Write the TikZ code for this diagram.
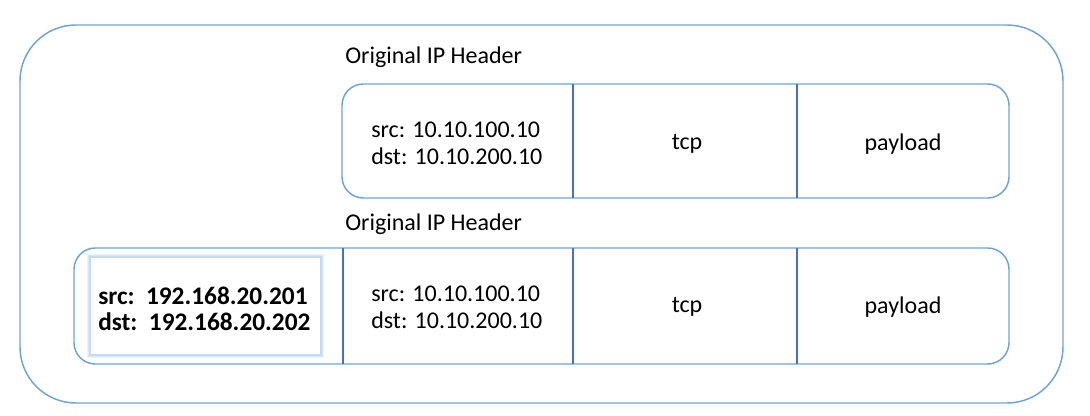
\documentclass[tikz,border=0pt]{standalone}
\usepackage{fontspec}
\setmainfont{Carlito}
\definecolor{lineblue}{RGB}{110,163,218}
\definecolor{sepblue}{RGB}{68,114,196}
\definecolor{glowblue}{RGB}{170,204,244}
\tikzset{
  frame/.style={draw=lineblue, line width=1.1pt},
  sep/.style={draw=sepblue, line width=1.1pt},
  txt/.style={font=\fontsize{18}{20.25}\selectfont, inner sep=0pt},
  boldtxt/.style={font=\bfseries\fontsize{19}{20}\selectfont, inner sep=0pt, align=left}
}
\begin{document}
\begin{tikzpicture}[x=0.75pt, y=-0.75pt]
    \useasboundingbox (0,0) rectangle (1090,416);
    \draw[frame, rounded corners=42pt] (20,25) rectangle (1063,403);

    \node[txt, anchor=west] (hdrone) at (345,57) {Original IP Header};
    \draw[frame, fill=white, rounded corners=16pt] (342,84) rectangle (1009,198);
    \draw[sep] (573,84) -- (573,198);
    \draw[sep] (797,84) -- (797,198);
    \node[txt, anchor=west, align=left] (ipone) at (371,143) {src: 10.10.100.10\\dst: 10.10.200.10};
    \node[txt] (tcpone) at (687,144) {tcp};
    \node[txt] (payone) at (903,144) {payload};

    \node[txt, anchor=west] (hdrtwo) at (345,224) {Original IP Header};
    \draw[frame, fill=white, rounded corners=16pt] (74,248) rectangle (1009,364);
    \draw[sep] (343,248) -- (343,364);
    \draw[sep] (573,248) -- (573,364);
    \draw[sep] (797,248) -- (797,364);
    \draw[draw=glowblue!25, line width=5pt] (90,257) rectangle (321,355);
    \draw[draw=glowblue!45, line width=3pt] (90,257) rectangle (321,355);
    \draw[draw=glowblue!70, fill=white, line width=1.2pt] (90,257) rectangle (321,355);
    \node[boldtxt, anchor=west] (outer) at (98,309) {src:\ \ 192.168.20.201\\dst:\ \ 192.168.20.202};
    \node[txt, anchor=west, align=left] (iptwo) at (371,307) {src: 10.10.100.10\\dst: 10.10.200.10};
    \node[txt] (tcptwo) at (687,307) {tcp};
    \node[txt] (paytwo) at (903,307) {payload};
\end{tikzpicture}
\end{document}
